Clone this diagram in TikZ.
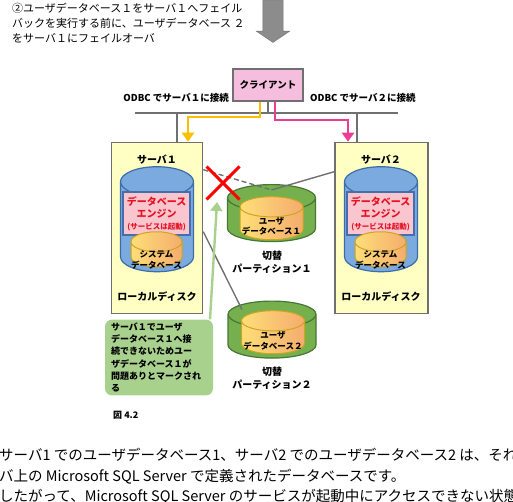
\documentclass[tikz,border=0pt]{standalone}
\usepackage{fontspec}
\setmainfont{Noto Sans CJK JP}
\usetikzlibrary{positioning,shapes.geometric,shapes.arrows,shapes.misc,arrows.meta}

\definecolor{srvfill}{RGB}{255,255,196}
\definecolor{framegray}{RGB}{112,112,112}
\definecolor{clientfill}{RGB}{246,190,222}
\definecolor{bluefill}{RGB}{122,170,222}
\definecolor{bluedraw}{RGB}{62,108,168}
\definecolor{enginefill}{RGB}{249,198,206}
\definecolor{enginedraw}{RGB}{70,110,175}
\definecolor{enginetext}{RGB}{228,20,40}
\definecolor{sysL}{RGB}{255,222,120}
\definecolor{sysR}{RGB}{244,172,110}
\definecolor{sysdraw}{RGB}{205,165,30}
\definecolor{greenfill}{RGB}{118,176,78}
\definecolor{greendraw}{RGB}{72,118,52}
\definecolor{notefill}{RGB}{169,209,142}
\definecolor{yellowlink}{RGB}{255,190,0}
\definecolor{pinklink}{RGB}{238,60,150}
\definecolor{arrowgray}{RGB}{140,140,140}

\begin{document}
\begin{tikzpicture}[x=1pt,y=-1pt]
\tikzstyle{server} = [rectangle, minimum width=91pt, minimum height=171pt, draw=framegray, line width=1.6pt, fill=srvfill]
\tikzstyle{clientbox} = [rectangle, minimum width=70pt, minimum height=32pt, draw=framegray, line width=1.6pt, fill=clientfill, font=\fontsize{9.5}{11}\selectfont\bfseries]
\tikzstyle{boldlabel} = [inner sep=0pt, align=center, font=\fontsize{10}{12.5}\selectfont\bfseries]
\tikzstyle{dbtext} = [inner sep=0pt, align=center, font=\fontsize{8.5}{10.5}\selectfont\bfseries]
\tikzstyle{linklabel} = [inner sep=0pt, font=\fontsize{9.5}{11}\selectfont\bfseries]
\tikzstyle{drum} = [cylinder, shape border rotate=90, inner sep=0pt]
\tikzstyle{bluedisk} = [drum, aspect=0.41, text width=73pt, minimum height=105pt, draw=bluedraw, line width=1.2pt, fill=bluefill]
\tikzstyle{engine} = [rectangle, minimum width=67pt, minimum height=43pt, inner sep=0pt, draw=enginedraw, line width=1.2pt, fill=enginefill, text=enginetext, align=center, font=\fontsize{10}{12}\selectfont\bfseries]
\tikzstyle{orangedb} = [drum, draw=sysdraw, line width=1pt, left color=sysL, right color=sysR]
\tikzstyle{sysdb} = [orangedb, aspect=0.39, text width=51pt, minimum height=35pt]
\tikzstyle{userdb} = [orangedb, aspect=0.32, text width=63pt, minimum height=43pt]
\tikzstyle{swpart} = [drum, aspect=0.3, text width=88pt, minimum height=57pt, draw=greendraw, line width=1.2pt, fill=greenfill]
\tikzstyle{notebox} = [rectangle, rounded corners=7pt, minimum width=108pt, minimum height=75pt, fill=notefill, text width=96pt, align=left, font=\fontsize{9}{12.2}\selectfont\bfseries]
\tikzstyle{net} = [draw=framegray, line width=1.6pt]
\tikzstyle{arrow} = [line width=2.6pt, ->, >={Stealth[inset=0pt, length=9pt, width=12pt]}]

\clip (0,0) rectangle (513,502);

% step caption and flow arrow
\node (step2) [anchor=north west, align=left, inner sep=0pt, font=\fontsize{11}{15}\selectfont] at (12,3) {②ユーザデータベース１をサーバ１へフェイル\\バックを実行する前に、ユーザデータベース ２\\をサーバ１にフェイルオーバ};
\node (flowdown) [single arrow, shape border rotate=270, draw=framegray, fill=arrowgray, minimum height=42pt, inner sep=10pt, single arrow head extend=6.5pt, single arrow tip angle=112] at (273,18) {};

% client and network
\node (client) [clientbox] at (268,85) {クライアント};
\node (odbc1) [linklabel, anchor=east] at (229,98) {ODBC でサーバ１に接続};
\node (odbc2) [linklabel, anchor=west] at (310,98) {ODBC でサーバ２に接続};

\coordinate (netL) at (135,113);
\coordinate (netR) at (398,113);
\draw [net] (netL) -- (netR);
\draw [net] (client.south) -- (client.south |- netL);

% servers
\node (srv1) [server] at (157,228) {};
\node (srv1name) [boldlabel] at (157,160) {サーバ１};
\node (disk1) [bluedisk] at (157,227) {};
\node (eng1) [engine] at (156.5,213.5) {データベース\\エンジン\\{\fontsize{7.5}{9}\selectfont (サービスは起動)}};
\node (sys1) [sysdb] at (156.5,254.5) {};
\node (sys1txt) [dbtext] at (156.5,260) {システム\\データベース};
\node (loc1) [boldlabel] at (157,297) {ローカルディスク};

\node (srv2) [server, minimum width=93pt] at (381.5,228) {};
\node (srv2name) [boldlabel] at (381,160) {サーバ２};
\node (disk2) [bluedisk] at (381,227) {};
\node (eng2) [engine] at (380.5,213.5) {データベース\\エンジン\\{\fontsize{7.5}{9}\selectfont (サービスは起動)}};
\node (sys2) [sysdb] at (380.5,254.5) {};
\node (sys2txt) [dbtext] at (380.5,260) {システム\\データベース};
\node (loc2) [boldlabel] at (381,297) {ローカルディスク};

\coordinate (drop1) at (177,113);
\coordinate (drop2) at (357,113);
\draw [net] (drop1) -- (drop1 |- srv1.north);
\draw [net] (drop2) -- (drop2 |- srv2.north);

\coordinate (ylk) at (188,117);
\coordinate (pkl) at (348,120);
\draw [arrow, draw=yellowlink] ([xshift=-8pt]client.south) |- (ylk) -- (ylk |- srv1.north);
\draw [arrow, draw=pinklink] ([xshift=7pt]client.south) |- (pkl) -- (pkl |- srv2.north);

% switch partitions
\node (part1) [swpart] at (271.5,220) {};
\node (udb1) [userdb] at (271.5,223.5) {};
\node (udb1txt) [dbtext] at (271.5,226.5) {ユーザ\\データベース１};
\node (part1name) [boldlabel] at (272,262) {切替\\パーティション１};

\node (part2) [swpart] at (272,336.5) {};
\node (udb2) [userdb] at (273,337.5) {};
\node (udb2txt) [dbtext] at (273,341) {ユーザ\\データベース２};
\node (part2name) [boldlabel] at (272,378) {切替\\パーティション２};

\draw [draw=framegray, line width=1.4pt, dash pattern=on 5pt off 3pt] ([yshift=-28pt]srv1.north east) -- ([yshift=-6pt]part1.north);
\draw [draw=framegray, line width=1.4pt] ([yshift=-30pt]srv2.north west) -- ([yshift=-6pt]part1.north);
\draw [draw=framegray, line width=1.4pt] ([yshift=-90pt]srv1.north east) -- ([xshift=-30pt, yshift=-9pt]part2.north);

\node (fail) [cross out, draw=red, line width=3pt, minimum width=30pt, minimum height=30pt, inner sep=0pt] at (223,183) {};

% note
\node (note) [notebox] at (159,357.5) {サーバ１でユーザ\\データベース１へ接\\続できないためユー\\ザデータベース１が\\問題ありとマークされ\\る};
\coordinate (markpt) at (217,202);
\draw [arrow, draw=notefill, line width=2.4pt] ([xshift=51pt]note.north) -- (markpt);

\node (figno) [anchor=west, inner sep=0pt, font=\fontsize{9}{11}\selectfont\bfseries] at (113,415) {図 4.2};

% body text
\node (desc) [anchor=north west, align=left, inner sep=0pt, font=\fontsize{14.5}{20.5}\selectfont] at (-1,448) {サーバ1 でのユーザデータベース1、サーバ2 でのユーザデータベース2 は、それ\\バ上の Microsoft SQL Server で定義されたデータベースです。\\したがって、Microsoft SQL Server のサービスが起動中にアクセスできない状態};
\end{tikzpicture}
\end{document}
